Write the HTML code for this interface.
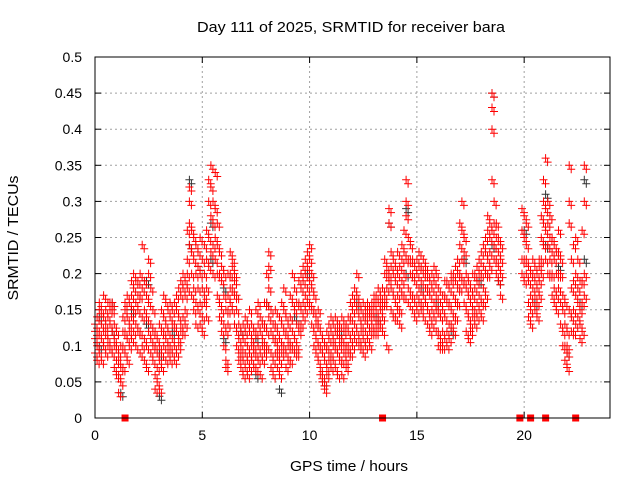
<!DOCTYPE html>
<html><head><meta charset="utf-8"><style>
body{margin:0;background:#fff;}
svg{display:block;font-family:"Liberation Sans",sans-serif;}
</style></head><body>
<svg id="chart" width="640" height="480" viewBox="0 0 640 480">
<text x="351" y="32" font-size="15" textLength="308" lengthAdjust="spacingAndGlyphs" text-anchor="middle">Day 111 of 2025, SRMTID for receiver bara</text>
<text x="349" y="471" font-size="15" textLength="118" lengthAdjust="spacingAndGlyphs" text-anchor="middle">GPS time / hours</text>
<text transform="translate(18,238) rotate(-90)" font-size="15" textLength="125" lengthAdjust="spacingAndGlyphs" text-anchor="middle">SRMTID / TECUs</text>
<g id="grid"></g><g id="ticks"></g><g id="black"></g><g id="red"></g><g id="squares"></g>
<rect x="95" y="57" width="515" height="361" fill="none" stroke="#000" stroke-width="1"/>
</svg>
<script>
const xTicks=[0,5,10,15,20];
const yTicks=[0,0.05,0.1,0.15,0.2,0.25,0.3,0.35,0.4,0.45,0.5];
const yTickLabels=["0","0.05","0.1","0.15","0.2","0.25","0.3","0.35","0.4","0.45","0.5"];
const gapTimes=[1.4,13.4,19.8,20.3,21.0,22.4];
// rows: [time, values...]
const redRows=[
[0.0,0.09,0.11,0.13,0.12],[0.1,0.1,0.14,0.08,0.12],[0.2,0.12,0.15,0.09,0.16],[0.3,0.11,0.13,0.15,0.08],[0.4,0.1,0.14,0.17,0.12],
[0.5,0.12,0.15,0.09,0.13],[0.6,0.11,0.16,0.14,0.1],[0.7,0.13,0.16,0.1,0.15],[0.8,0.12,0.15,0.09,0.16],[0.9,0.1,0.13,0.07,0.11],
[1.0,0.08,0.1,0.12,0.06],[1.1,0.06,0.08,0.035,0.09],[1.2,0.07,0.1,0.05],[1.3,0.1,0.12,0.07,0.14],[1.4,0.12,0.16,0.09,0.15],
[1.5,0.11,0.14,0.17,0.08],[1.6,0.13,0.16,0.1,0.12],[1.7,0.14,0.17,0.11,0.19],[1.8,0.12,0.18,0.15,0.2],[1.9,0.13,0.16,0.1,0.19],
[2.0,0.15,0.19,0.12,0.17],[2.1,0.12,0.17,0.09,0.2],[2.2,0.24,0.14,0.1,0.18],[2.3,0.11,0.15,0.08,0.19],[2.4,0.1,0.14,0.07,0.17],
[2.5,0.12,0.22,0.16,0.2],[2.6,0.09,0.13,0.18,0.11],[2.7,0.08,0.12,0.1,0.15],[2.8,0.06,0.1,0.04,0.12],[2.9,0.05,0.09,0.11,0.07],
[3.0,0.04,0.08,0.1,0.13],[3.1,0.09,0.12,0.15,0.07],[3.2,0.1,0.14,0.17,0.12],[3.3,0.08,0.13,0.11,0.16],[3.4,0.09,0.12,0.15,0.1],
[3.5,0.1,0.14,0.08,0.16],[3.6,0.11,0.15,0.09,0.13],[3.7,0.1,0.13,0.16,0.08],[3.8,0.12,0.15,0.09,0.17],[3.9,0.11,0.14,0.18,0.1],
[4.0,0.13,0.17,0.12,0.19],[4.1,0.14,0.18,0.2,0.12],[4.2,0.15,0.19,0.13,0.17],[4.3,0.22,0.26,0.18,0.2],[4.4,0.3,0.27,0.24,0.32],
[4.5,0.2,0.23,0.17,0.26],[4.6,0.18,0.22,0.15,0.25],[4.7,0.16,0.2,0.24,0.13],[4.8,0.18,0.21,0.15,0.23],[4.9,0.16,0.2,0.13,0.25],
[5.0,0.14,0.18,0.22,0.12],[5.1,0.16,0.2,0.17,0.24],[5.2,0.18,0.22,0.14,0.26],[5.3,0.25,0.3,0.33,0.21],[5.4,0.28,0.35,0.32,0.23],
[5.5,0.24,0.27,0.2,0.3],[5.6,0.25,0.29,0.22,0.34],[5.7,0.2,0.24,0.17,0.27],[5.8,0.16,0.2,0.23,0.14],[5.9,0.15,0.19,0.12,0.21],
[6.0,0.13,0.17,0.2,0.1],[6.1,0.08,0.12,0.15,0.07],[6.2,0.13,0.17,0.2,0.15],[6.3,0.16,0.2,0.23,0.18],[6.4,0.18,0.21,0.15,0.22],
[6.5,0.17,0.2,0.13,0.19],[6.6,0.12,0.15,0.1,0.17],[6.7,0.08,0.11,0.09,0.13],[6.8,0.07,0.1,0.12,0.09],[6.9,0.08,0.11,0.13,0.06],
[7.0,0.09,0.12,0.07,0.14],[7.1,0.08,0.1,0.13,0.06],[7.2,0.09,0.12,0.07,0.15],[7.3,0.08,0.11,0.13,0.1],[7.4,0.07,0.1,0.12,0.09],
[7.5,0.09,0.12,0.15,0.07],[7.6,0.1,0.13,0.08,0.16],[7.7,0.09,0.12,0.06,0.14],[7.8,0.08,0.11,0.13,0.1],[7.9,0.1,0.13,0.16,0.09],
[8.0,0.12,0.16,0.2,0.1],[8.1,0.23,0.18,0.21,0.14],[8.2,0.09,0.12,0.07,0.15],[8.3,0.08,0.11,0.13,0.06],[8.4,0.09,0.13,0.11,0.15],
[8.5,0.07,0.1,0.12,0.09],[8.6,0.08,0.11,0.14,0.06],[8.7,0.1,0.13,0.16,0.09],[8.8,0.12,0.18,0.15,0.1],[8.9,0.09,0.12,0.07,0.14],
[9.0,0.08,0.11,0.13,0.1],[9.1,0.1,0.14,0.17,0.08],[9.2,0.12,0.16,0.2,0.1],[9.3,0.11,0.15,0.18,0.09],[9.4,0.09,0.13,0.1,0.16],
[9.5,0.13,0.16,0.19,0.12],[9.6,0.15,0.18,0.2,0.13],[9.7,0.16,0.19,0.21,0.14],[9.8,0.17,0.2,0.22,0.15],[9.9,0.18,0.21,0.16,0.23],
[10.0,0.19,0.22,0.24,0.16],[10.1,0.15,0.18,0.2,0.13],[10.2,0.12,0.15,0.1,0.17],[10.3,0.11,0.14,0.09,0.13],[10.4,0.1,0.13,0.08,0.15],
[10.5,0.07,0.1,0.12,0.06],[10.6,0.06,0.09,0.11,0.05],[10.7,0.05,0.08,0.1,0.04],[10.8,0.07,0.1,0.12,0.06],[10.9,0.08,0.11,0.13,0.09],
[11.0,0.09,0.12,0.14,0.07],[11.1,0.08,0.11,0.13,0.1],[11.2,0.1,0.12,0.07,0.14],[11.3,0.09,0.12,0.06,0.13],[11.4,0.1,0.13,0.08,0.11],
[11.5,0.08,0.11,0.14,0.06],[11.6,0.09,0.12,0.1,0.13],[11.7,0.08,0.1,0.13,0.07],[11.8,0.1,0.12,0.09,0.14],[11.9,0.11,0.14,0.09,0.16],
[12.0,0.12,0.15,0.1,0.17],[12.1,0.13,0.16,0.18,0.11],[12.2,0.15,0.2,0.17,0.12],[12.3,0.11,0.14,0.1,0.16],[12.4,0.12,0.15,0.1,0.13],
[12.5,0.11,0.14,0.16,0.09],[12.6,0.12,0.15,0.1,0.14],[12.7,0.13,0.16,0.11,0.15],[12.8,0.12,0.15,0.14,0.1],[12.9,0.13,0.16,0.12,0.15],
[13.0,0.14,0.16,0.12,0.17],[13.1,0.13,0.15,0.17,0.12],[13.2,0.14,0.16,0.13,0.18],[13.3,0.15,0.17,0.13,0.16],[13.4,0.14,0.16,0.18,0.12],
[13.5,0.17,0.2,0.16,0.22],[13.6,0.18,0.21,0.1,0.2],[13.7,0.29,0.27,0.2,0.19],[13.8,0.18,0.21,0.15,0.23],[13.9,0.17,0.2,0.14,0.22],
[14.0,0.16,0.19,0.21,0.14],[14.1,0.17,0.2,0.15,0.23],[14.2,0.15,0.18,0.13,0.21],[14.3,0.19,0.22,0.24,0.17],[14.4,0.2,0.23,0.26,0.17],
[14.5,0.3,0.33,0.28,0.22],[14.6,0.18,0.22,0.25,0.16],[14.7,0.2,0.24,0.17,0.22],[14.8,0.17,0.2,0.15,0.22],[14.9,0.16,0.19,0.21,0.14],
[15.0,0.17,0.2,0.15,0.22],[15.1,0.18,0.21,0.16,0.23],[15.2,0.16,0.19,0.21,0.15],[15.3,0.17,0.2,0.14,0.22],[15.4,0.18,0.2,0.16,0.21],
[15.5,0.15,0.18,0.13,0.2],[15.6,0.14,0.17,0.19,0.12],[15.7,0.15,0.18,0.13,0.2],[15.8,0.16,0.19,0.14,0.21],[15.9,0.15,0.17,0.12,0.2],
[16.0,0.12,0.15,0.1,0.18],[16.1,0.11,0.14,0.16,0.1],[16.2,0.12,0.15,0.1,0.17],[16.3,0.14,0.17,0.11,0.19],[16.4,0.12,0.16,0.19,0.1],
[16.5,0.13,0.16,0.11,0.18],[16.6,0.15,0.19,0.13,0.2],[16.7,0.14,0.17,0.12,0.2],[16.8,0.16,0.19,0.14,0.21],[16.9,0.18,0.22,0.16,0.2],
[17.0,0.2,0.24,0.27,0.18],[17.1,0.22,0.26,0.3,0.19],[17.2,0.19,0.23,0.16,0.25],[17.3,0.15,0.18,0.12,0.2],[17.4,0.14,0.17,0.11,0.19],
[17.5,0.13,0.16,0.12,0.18],[17.6,0.14,0.17,0.15,0.2],[17.7,0.15,0.18,0.13,0.2],[17.8,0.16,0.19,0.14,0.21],[17.9,0.17,0.2,0.15,0.22],
[18.0,0.16,0.2,0.23,0.14],[18.1,0.18,0.21,0.16,0.24],[18.2,0.2,0.23,0.17,0.25],[18.3,0.22,0.26,0.2,0.28],[18.4,0.23,0.27,0.21,0.25],
[18.5,0.45,0.43,0.4,0.33,0.26],[18.6,0.24,0.27,0.22,0.3],[18.7,0.22,0.25,0.2,0.27],[18.8,0.21,0.23,0.19,0.25],[18.9,0.22,0.24,0.17,0.2],
[19.9,0.22,0.26,0.29,0.2],[20.0,0.25,0.28,0.22,0.19],[20.1,0.24,0.2,0.27,0.22],[20.2,0.16,0.19,0.21,0.14],[20.3,0.15,0.17,0.2,0.13],
[20.4,0.18,0.2,0.16,0.22],[20.5,0.17,0.19,0.15,0.21],[20.6,0.16,0.18,0.2,0.14],[20.7,0.19,0.21,0.17,0.22],[20.8,0.22,0.25,0.2,0.28],
[20.9,0.27,0.3,0.24,0.33],[21.0,0.26,0.29,0.36,0.22],[21.1,0.24,0.27,0.3,0.2],[21.2,0.22,0.25,0.2,0.28],[21.3,0.2,0.23,0.17,0.25],
[21.4,0.18,0.22,0.16,0.24],[21.5,0.17,0.2,0.23,0.15],[21.6,0.2,0.23,0.18,0.26],[21.7,0.16,0.2,0.13,0.22],[21.8,0.12,0.15,0.1,0.17],
[21.9,0.1,0.13,0.08,0.16],[22.0,0.07,0.1,0.12,0.09],[22.1,0.3,0.35,0.27,0.15],[22.2,0.14,0.18,0.22,0.12],[22.3,0.15,0.19,0.24,0.12],
[22.4,0.13,0.17,0.2,0.25],[22.5,0.14,0.18,0.16,0.22],[22.6,0.11,0.15,0.19,0.13],[22.7,0.16,0.19,0.26,0.12],[22.8,0.2,0.3,0.35,0.17]
];
const blackRows=[
[0.2,0.1,0.14],[0.8,0.12,0.16],[1.2,0.035],[1.7,0.15],[2.4,0.19,0.13],[3.0,0.03,0.09],[3.6,0.12],[4.4,0.33,0.24],[4.8,0.21],
[5.4,0.27,0.22],[6.0,0.11,0.18],[6.8,0.12],[7.5,0.06,0.11],[8.0,0.16],[8.6,0.04],[9.3,0.14],[9.9,0.2],[10.6,0.05],[11.4,0.12],
[12.2,0.16],[13.1,0.14],[13.7,0.27],[14.5,0.29,0.2],[15.2,0.18],[15.9,0.16],[16.6,0.12],[17.2,0.22],[17.9,0.19],[18.5,0.45,0.24],
[18.8,0.19],[20.0,0.26],[20.5,0.16],[21.0,0.31,0.24],[21.6,0.21],[22.0,0.09],[22.6,0.16],[22.8,0.33,0.22]
];
const NS='http://www.w3.org/2000/svg';
const X0=95,X1=610,Y0=418,Y1=57;
function sx(t){return X0+(t/24)*(X1-X0);}
function sy(v){return Y0-(v/0.5)*(Y0-Y1);}
function mk(tag,attrs,parent){const e=document.createElementNS(NS,tag);for(const k in attrs)e.setAttribute(k,attrs[k]);parent.appendChild(e);return e;}
const grid=document.getElementById('grid'),ticks=document.getElementById('ticks');
yTicks.forEach((v,i)=>{
  const y=sy(v);
  if(i>0&&i<yTicks.length-1){const g=mk('line',{x1:X0,x2:X1,y1:y,y2:y,stroke:'#a0a0a0','stroke-dasharray':'2,3'},grid);
  
  }
  mk('line',{x1:X0,x2:X0+6,y1:y,y2:y,stroke:'#000'},ticks);
  mk('line',{x1:X1,x2:X1-6,y1:y,y2:y,stroke:'#000'},ticks);
  const t=mk('text',{x:X0-13,y:y+5,'font-size':14,'text-anchor':'end'},ticks);
  t.textContent=yTickLabels[i];
  
  
});
xTicks.forEach(v=>{
  const x=sx(v);
  if(v>0){const g=mk('line',{x1:x,x2:x,y1:Y0,y2:Y1,stroke:'#a0a0a0','stroke-dasharray':'2,3'},grid);
  
  }
  mk('line',{x1:x,x2:x,y1:Y0,y2:Y0-6,stroke:'#000'},ticks);
  mk('line',{x1:x,x2:x,y1:Y1,y2:Y1+6,stroke:'#000'},ticks);
  const t=mk('text',{x:x,y:Y0+22,'font-size':14,'text-anchor':'middle'},ticks);
  t.textContent=String(v);
  
  
});
function drawRows(rows,color,gid,nm){
  const g=document.getElementById(gid);let d='';
  rows.forEach(r=>{const x=sx(r[0]);for(let i=1;i<r.length;i++){const y=sy(r[i]);
    d+=`M${(x-4).toFixed(1)} ${y.toFixed(1)}h8M${x.toFixed(1)} ${(y-4).toFixed(1)}v8`;
    d+=`M${(x-2).toFixed(1)} ${(y+4).toFixed(1)}h8M${(x+2).toFixed(1)} ${(y).toFixed(1)}v8`;}});
  const p=mk('path',{d:d,stroke:color,'stroke-width':1,fill:'none'},g);
  
  
}
drawRows(blackRows,'#333','black','black-series-points');
drawRows(redRows,'#ff0000','red','red-series-points');
const sq=document.getElementById('squares');
gapTimes.forEach(t=>{
  const r=mk('rect',{x:sx(t)-3.5,y:Y0-3.5,width:7,height:7,fill:'#ff0000'},sq);
  
  
});
</script>
</body></html>
